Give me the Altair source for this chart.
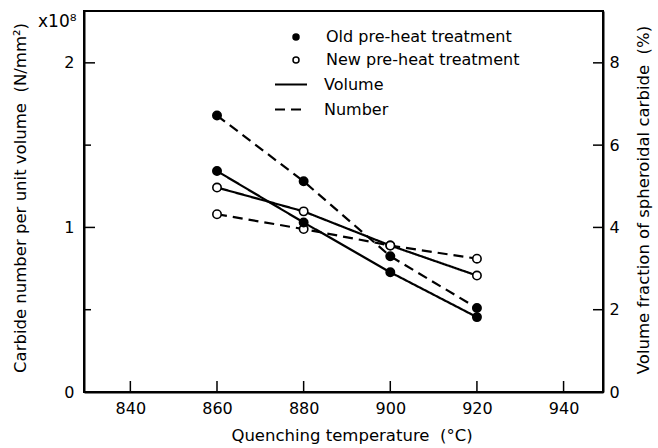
import altair as alt
import pandas as pd

# ---- data ----
temps = [860, 880, 900, 920]
old_number = [1.68, 1.28, 0.825, 0.51]      # x10^8 N/mm^2 (left axis)
new_number = [1.08, 0.99, 0.89, 0.81]
old_volume = [5.37, 4.12, 2.91, 1.82]       # % (right axis)
new_volume = [4.97, 4.39, 3.56, 2.83]

treatments = ["Old pre-heat treatment", "New pre-heat treatment"]
measures = ["Volume", "Number"]

x_ticks = [840, 860, 880, 900, 920, 940]
left_labels = [0, 1, 2]
left_major = [1, 2]
left_minor = [0.5, 1.5]
right_labels = [0, 2, 4, 6, 8]
right_ticks = [2, 4, 6, 8]

rows = []
for t, a, b, c, d in zip(temps, old_number, new_number, old_volume, new_volume):
    rows.append(dict(temp=t, treatment=treatments[0], measure="Number", value=a))
    rows.append(dict(temp=t, treatment=treatments[1], measure="Number", value=b))
    rows.append(dict(temp=t, treatment=treatments[0], measure="Volume", value=c))
    rows.append(dict(temp=t, treatment=treatments[1], measure="Volume", value=d))
df = pd.DataFrame(rows)

W, H = 519, 381
FONT = "DejaVu Sans"
SP = "\u00a0\u00a0"

xs = alt.Scale(domain=[829.3, 949.1], nice=False, zero=False)
ys_n = alt.Scale(domain=[0, 2.315], nice=False, zero=False)
ys_v = alt.Scale(domain=[0, 9.26], nice=False, zero=False)

x_axis = alt.Axis(values=x_ticks, format="d", labelPadding=8, labelFontSize=16,
                  title="Quenching temperature" + SP + "(°C)", titleFontSize=16.5,
                  titleY=43, titleX=W / 2 + 8, titleBaseline="middle")
left_axis = alt.Axis(values=left_labels, format="d", labelPadding=10, labelFontSize=16,
                     title="Carbide number per unit volume" + SP + "(N/mm²)", titleFontSize=16.5,
                     titleX=-64, titleY=H / 2 - 4, titleAngle=270,
                     titleAlign="center", titleBaseline="middle")
right_axis = alt.Axis(values=right_labels, format="d", orient="right", labelPadding=6,
                      labelFontSize=16,
                      title="Volume fraction of spheroidal carbide" + SP + "(%)", titleFontSize=16.5,
                      titleX=40, titleY=H / 2 - 2, titleAngle=270,
                      titleAlign="center", titleBaseline="middle")

fill_scale = alt.Scale(domain=treatments, range=["black", "white"])
dash_scale = alt.Scale(domain=measures, range=[[1, 0], [10, 6]])

fill_legend = alt.Legend(orient="none", legendX=204, legendY=18, title=None,
                         labelFontSize=16, labelLimit=500, symbolSize=36,
                         symbolStrokeColor="black", symbolStrokeWidth=1.5,
                         rowPadding=7, labelOffset=22, padding=0)
dash_legend = alt.Legend(orient="none", legendX=190, legendY=56.5, title=None,
                         symbolType="stroke", symbolSize=1024, symbolStrokeWidth=2,
                         symbolStrokeColor="black", labelFontSize=16, labelLimit=500,
                         rowPadding=-8.5, labelOffset=16, padding=0)

X = alt.X("temp:Q", scale=xs, axis=x_axis)


def series_layers(measure, yscale, yaxis):
    base = alt.Chart(df).transform_filter(alt.datum.measure == measure)
    Y = alt.Y("value:Q", scale=yscale, axis=yaxis)
    line = base.mark_line(color="black", strokeWidth=2.2).encode(
        x=X, y=Y,
        strokeDash=alt.StrokeDash("measure:N", scale=dash_scale, legend=dash_legend),
        detail="treatment:N",
    )
    pts = base.mark_circle(size=70, stroke="black", strokeWidth=1.6, opacity=1).encode(
        x=X, y=Y,
        fill=alt.Fill("treatment:N", scale=fill_scale, legend=fill_legend),
    )
    return line, pts


n_line, n_pts = series_layers("Number", ys_n, left_axis)
v_line, v_pts = series_layers("Volume", ys_v, right_axis)

bottom_ticks = alt.Chart(pd.DataFrame({"temp": x_ticks})).mark_rule(
    color="black", strokeWidth=1.5).encode(x=X, y=alt.value(H), y2=alt.value(H - 11))
left_major_ticks = alt.Chart(pd.DataFrame({"value": left_major})).mark_rule(
    color="black", strokeWidth=1.5).encode(
    y=alt.Y("value:Q", scale=ys_n, axis=left_axis), x=alt.value(0), x2=alt.value(11))
left_minor_ticks = alt.Chart(pd.DataFrame({"value": left_minor})).mark_rule(
    color="black", strokeWidth=1.5).encode(
    y=alt.Y("value:Q", scale=ys_n, axis=left_axis), x=alt.value(0), x2=alt.value(7))
right_tick_marks = alt.Chart(pd.DataFrame({"value": right_ticks})).mark_rule(
    color="black", strokeWidth=1.5).encode(
    y=alt.Y("value:Q", scale=ys_v, axis=right_axis), x=alt.value(W - 10), x2=alt.value(W))
mult = alt.Chart(pd.DataFrame({"t": ["x10⁸"]})).mark_text(
    align="left", baseline="middle", fontSize=17, font=FONT, color="black").encode(
    text="t:N", x=alt.value(-46), y=alt.value(11))

left_layer = alt.layer(n_line, n_pts, left_major_ticks, left_minor_ticks, bottom_ticks, mult)
right_layer = alt.layer(v_line, v_pts, right_tick_marks)

chart = alt.layer(left_layer, right_layer).resolve_scale(y="independent").properties(
    width=W, height=H,
    autosize=alt.AutoSizeParams(type="none"),
    padding={"left": 84, "top": 11, "right": 658 - 84 - W, "bottom": 448 - 11 - H},
    background="white",
).configure_view(stroke="black", strokeWidth=2).configure_axis(
    labelFont=FONT, titleFont=FONT, labelColor="black", titleColor="black",
    titleFontWeight="normal", domainColor="black", domainWidth=2, grid=False,
    tickSize=0, ticks=False,
).configure_legend(labelFont=FONT, labelColor="black")

chart.save("out.html", embed_options={"renderer": "svg", "actions": False})
